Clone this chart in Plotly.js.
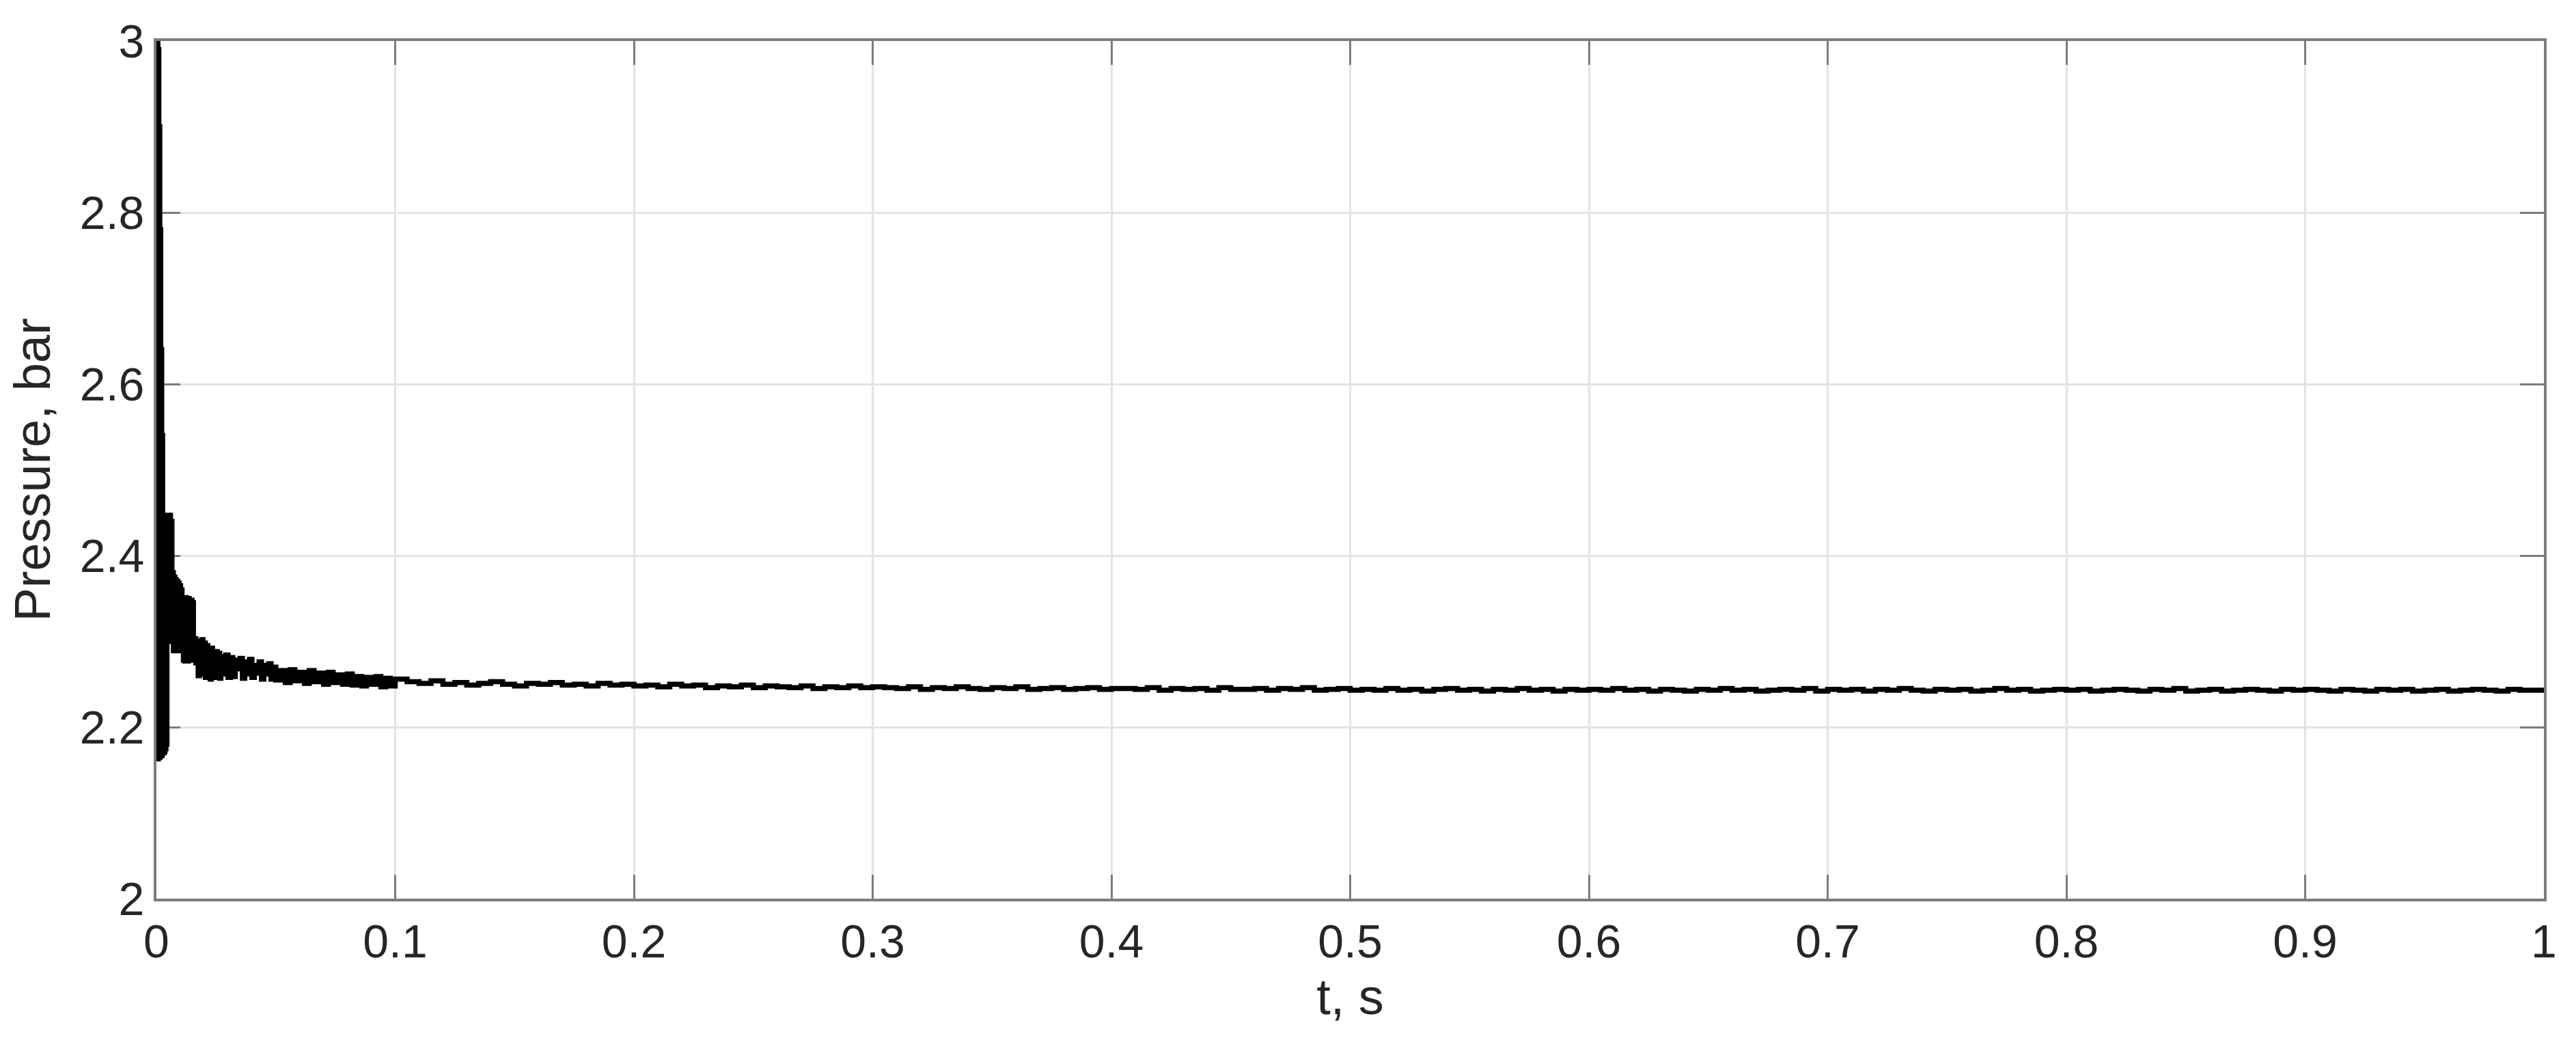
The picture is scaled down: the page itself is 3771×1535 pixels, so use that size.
<!DOCTYPE html>
<html>
<head>
<meta charset="utf-8">
<script src="https://cdn.plot.ly/plotly-3.0.1.min.js"></script>
<style>
  html, body { margin: 0; padding: 0; background: #ffffff; }
  #chart { width: 3771px; height: 1535px; }
</style>
</head>
<body>
<div id="chart"></div>
<script>
// ---- Data (time in s, pressure in bar) ----
// Start-up transient, irregular sampling
const tEarly = [
  0.0000, 0.0002, 0.0004, 0.0006, 0.0008, 0.0010, 0.0012, 0.0014, 0.0016, 0.0018,
  0.0020, 0.0022, 0.0024, 0.0026, 0.0028, 0.0030, 0.0032, 0.0034, 0.0036, 0.0038,
  0.0040, 0.0042, 0.0044, 0.0047, 0.0050, 0.0053, 0.0056, 0.0059, 0.0062, 0.0065,
  0.0068, 0.0071, 0.0074, 0.0077, 0.0080, 0.0083, 0.0086, 0.0089, 0.0092, 0.0095,
  0.0098, 0.0101, 0.0104, 0.0107, 0.0110, 0.0113, 0.0116, 0.0119, 0.0122, 0.0125,
  0.0128, 0.0131, 0.0134, 0.0137, 0.0140, 0.0143, 0.0146, 0.0149, 0.0152, 0.0155,
  0.0160, 0.0165, 0.0170, 0.0175, 0.0180, 0.0185, 0.0190, 0.0195, 0.0200, 0.0205,
  0.0210, 0.0215, 0.0220, 0.0225, 0.0230, 0.0235, 0.0240, 0.0245, 0.0250, 0.0255,
  0.0260, 0.0265, 0.0270, 0.0280, 0.0290, 0.0300, 0.0310, 0.0320, 0.0330, 0.0340,
  0.0350, 0.0360, 0.0370, 0.0380, 0.0390, 0.0400, 0.0410, 0.0420, 0.0430, 0.0440,
  0.0450, 0.0460, 0.0470, 0.0480, 0.0490, 0.0500, 0.0520, 0.0540, 0.0560, 0.0580,
  0.0600, 0.0620, 0.0640, 0.0660, 0.0680, 0.0700, 0.0720, 0.0740, 0.0760, 0.0780,
  0.0800, 0.0820, 0.0840, 0.0860, 0.0880, 0.0900, 0.0920, 0.0940, 0.0960, 0.0980,
  0.1000
];
const pEarly = [
  3.000, 2.165, 3.000, 2.163, 2.990, 2.165, 2.900, 2.165, 2.780, 2.167,
  2.640, 2.167, 2.540, 2.170, 2.447, 2.170, 2.447, 2.172, 2.447, 2.175,
  2.447, 2.180, 2.447, 2.300, 2.447, 2.369, 2.447, 2.369, 2.440, 2.369,
  2.380, 2.289, 2.375, 2.289, 2.372, 2.290, 2.370, 2.289, 2.368, 2.292,
  2.365, 2.290, 2.360, 2.300, 2.330, 2.278, 2.351, 2.277, 2.351, 2.280,
  2.350, 2.277, 2.350, 2.280, 2.348, 2.278, 2.348, 2.282, 2.345, 2.285,
  2.303, 2.275, 2.300, 2.260, 2.298, 2.262, 2.302, 2.280, 2.298, 2.258,
  2.295, 2.270, 2.290, 2.256, 2.292, 2.262, 2.285, 2.258, 2.288, 2.265,
  2.286, 2.257, 2.282, 2.262, 2.284, 2.258, 2.281, 2.259, 2.278, 2.268,
  2.280, 2.257, 2.276, 2.262, 2.279, 2.258, 2.272, 2.263, 2.276, 2.256,
  2.272, 2.262, 2.274, 2.256, 2.270, 2.255, 2.266, 2.252, 2.267, 2.254,
  2.264, 2.251, 2.266, 2.253, 2.263, 2.250, 2.264, 2.252, 2.261, 2.250,
  2.262, 2.249, 2.259, 2.248, 2.258, 2.250, 2.259, 2.247, 2.257, 2.248,
  2.256
];

// Settled part, uniform sampling from lateStart with step lateStep
const lateStart = 0.105;
const lateStep = 0.005;
const pLate = [
  2.253, 2.251, 2.254, 2.250, 2.252, 2.249, 2.251, 2.253, 2.250, 2.248, 2.251, 2.250, 2.252, 2.249, 2.250, 2.248, 2.251, 2.249, 2.250, 2.248,
  2.249, 2.247, 2.250, 2.248, 2.249, 2.246, 2.248, 2.247, 2.249, 2.246, 2.248, 2.247, 2.246, 2.248, 2.245, 2.247, 2.246, 2.248, 2.246, 2.247,
  2.246, 2.245, 2.247, 2.244, 2.246, 2.245, 2.247, 2.245, 2.244, 2.246, 2.245, 2.247, 2.244, 2.245, 2.246, 2.244, 2.245, 2.246, 2.244, 2.245,
  2.245, 2.244, 2.246, 2.243, 2.245, 2.244, 2.245, 2.243, 2.246, 2.244, 2.244, 2.245, 2.243, 2.245, 2.244, 2.246, 2.243, 2.244, 2.245, 2.243,
  2.244, 2.243, 2.245, 2.243, 2.244, 2.242, 2.244, 2.245, 2.243, 2.244, 2.242, 2.244, 2.243, 2.245, 2.243, 2.244, 2.242, 2.244, 2.243, 2.244,
  2.243, 2.245, 2.243, 2.244, 2.242, 2.244, 2.243, 2.242, 2.244, 2.243, 2.245, 2.243, 2.244, 2.242, 2.243, 2.244, 2.243, 2.245, 2.242, 2.244,
  2.243, 2.244, 2.242, 2.244, 2.243, 2.245, 2.243, 2.242, 2.244, 2.243, 2.244, 2.242, 2.243, 2.245, 2.243, 2.244, 2.242, 2.243, 2.244, 2.243,
  2.244, 2.242, 2.243, 2.244, 2.243, 2.242, 2.244, 2.243, 2.245, 2.242, 2.243, 2.244, 2.242, 2.243, 2.244, 2.243, 2.242, 2.244, 2.243, 2.244,
  2.243, 2.242, 2.244, 2.243, 2.242, 2.244, 2.243, 2.244, 2.242, 2.243, 2.244, 2.242, 2.243, 2.244, 2.243, 2.242, 2.244, 2.243, 2.243, 2.243
];

const xTickVals = [0, 0.1, 0.2, 0.3, 0.4, 0.5, 0.6, 0.7, 0.8, 0.9, 1];
const xTickText = ['0', '0.1', '0.2', '0.3', '0.4', '0.5', '0.6', '0.7', '0.8', '0.9', '1'];
const yTickVals = [2, 2.2, 2.4, 2.6, 2.8, 3];
const yTickText = ['2', '2.2', '2.4', '2.6', '2.8', '3'];

const xTitle = 't, s';
const yTitle = 'Pressure, bar';

// ---- Assemble the series ----
const tLate = pLate.map((_, i) => +(lateStart + i * lateStep).toFixed(4));
const tAll = tEarly.concat(tLate);
const pAll = pEarly.concat(pLate);

const FONT = 'Liberation Sans, Arial, Helvetica, sans-serif';
const AXIS_GRAY = '#7c7c7c';
const GRID = '#e3e3e3';

const trace = {
  x: tAll,
  y: pAll,
  type: 'scatter',
  mode: 'lines',
  line: { color: '#000000', width: 7.5, shape: 'hv' },
  hoverinfo: 'skip',
  showlegend: false
};

const axisCommon = {
  showline: true,
  linecolor: AXIS_GRAY,
  linewidth: 4,
  mirror: 'ticks',
  ticks: 'inside',
  ticklen: 35,
  tickwidth: 3,
  tickcolor: AXIS_GRAY,
  showgrid: true,
  gridcolor: GRID,
  gridwidth: 3,
  zeroline: false,
  layer: 'below traces',
  tickfont: { family: FONT, size: 68, color: '#262626' },
  tickmode: 'array'
};

const layout = {
  width: 3771,
  height: 1535,
  margin: { l: 229, r: 47, t: 60, b: 220, pad: 0 },
  paper_bgcolor: '#ffffff',
  plot_bgcolor: '#ffffff',
  showlegend: false,
  xaxis: Object.assign({}, axisCommon, {
    range: [0, 1],
    tickvals: xTickVals,
    ticktext: xTickText,
    title: { text: xTitle, font: { family: FONT, size: 74, color: '#262626' }, standoff: 20 }
  }),
  yaxis: Object.assign({}, axisCommon, {
    range: [2, 3],
    tickvals: yTickVals,
    ticktext: yTickText,
    title: { text: yTitle, font: { family: FONT, size: 74, color: '#262626' }, standoff: 20 }
  })
};

Plotly.newPlot('chart', [trace], layout, { displayModeBar: false, staticPlot: true });
</script>
</body>
</html>
